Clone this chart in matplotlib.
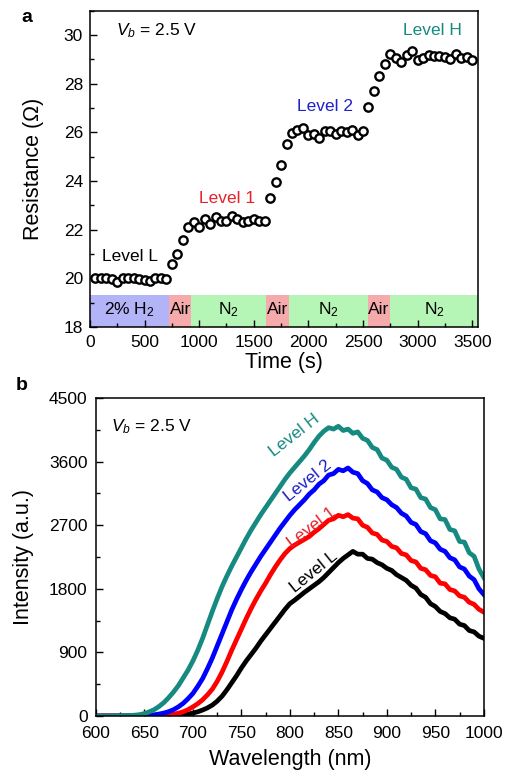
import numpy as np
import matplotlib
matplotlib.use("Agg")
import matplotlib.pyplot as plt
from matplotlib.ticker import MultipleLocator

plt.rcParams['font.family'] = ['Liberation Sans', 'DejaVu Sans']
plt.rcParams['mathtext.fontset'] = 'custom'
plt.rcParams['mathtext.rm'] = 'Liberation Sans'
plt.rcParams['mathtext.it'] = 'Liberation Sans:italic'

# ---- panel a: resistance vs time ----
time_s = list(range(50, 3501, 50))
resistance = [
    20.00, 20.00, 20.00, 19.95, 19.85, 20.00, 20.00, 20.00, 19.98, 19.93, 19.90, 20.02, 20.02, 19.95,  # 50-700
    20.58, 20.99, 21.59, 22.11, 22.33, 22.11, 22.45, 22.25, 22.50, 22.34, 22.37, 22.58, 22.44, 22.30,  # 750-1400
    22.37, 22.45, 22.37, 22.34,  # 1450-1600
    23.30, 23.97, 24.65, 25.53, 25.98, 26.09, 26.18, 25.89, 25.93, 25.78, 26.06, 26.04, 25.95, 26.04,  # 1650-2300
    26.02, 26.11, 25.91, 26.06,  # 2350-2500
    27.04, 27.72, 28.30, 28.80, 29.24, 29.06, 28.90, 29.17, 29.35, 28.97, 29.04, 29.20, 29.13, 29.13,  # 2550-3200
    29.08, 29.00, 29.24, 29.04, 29.10, 28.97,  # 3250-3500
]

# gas atmosphere segments (start, end, label, colour)
gas_start = [0, 722, 930, 1615, 1822, 2543, 2751]
gas_end = [722, 930, 1615, 1822, 2543, 2751, 3550]
gas_label = [r'2% H$_2$', 'Air', r'N$_2$', 'Air', r'N$_2$', 'Air', r'N$_2$']
gas_color = ['#b3b3f7', '#f5abab', '#b5f5b5', '#f5abab', '#b5f5b5', '#f5abab', '#b5f5b5']

# ---- panel b: EL spectra ----
wavelength = list(range(600, 1001, 5))
level_H = [0, 0, 0, 0, 2, 4, 6, 8, 12, 20, 35, 60, 90, 135, 190, 260, 340, 430, 540, 650,
           780, 930, 1100, 1290, 1480, 1660, 1830, 1980, 2120, 2250, 2380, 2510, 2630, 2740, 2850, 2950,
           3050, 3150, 3250, 3350, 3440, 3520, 3600, 3680, 3770, 3870, 3960, 4030, 4080, 4060, 4100,
           4040, 4060, 4000, 4020, 3930, 3900, 3800, 3770, 3650, 3620, 3520, 3490, 3380, 3350, 3230,
           3210, 3090, 3070, 2950, 2920, 2790, 2780, 2640, 2620, 2470, 2460, 2310, 2260, 2080, 1960]
level_2 = [0, 0, 0, 0, 0, 1, 2, 3, 4, 6, 8, 12, 18, 28, 42, 62, 90, 130, 180, 245,
           320, 420, 530, 670, 820, 990, 1160, 1330, 1500, 1650, 1790, 1920, 2040, 2150, 2260, 2360,
           2460, 2560, 2660, 2750, 2840, 2920, 2990, 3060, 3140, 3200, 3280, 3330, 3410, 3430, 3490,
           3470, 3510, 3450, 3430, 3330, 3290, 3200, 3170, 3090, 3060, 2990, 2950, 2870, 2830, 2740,
           2710, 2610, 2580, 2480, 2450, 2360, 2330, 2240, 2210, 2110, 2080, 1980, 1930, 1800, 1720]
level_1 = [0, 0, 0, 0, 0, 0, 0, 0, 0, 0, 0, 1, 3, 6, 10, 16, 25, 40, 60, 90,
           130, 175, 230, 300, 380, 490, 620, 770, 930, 1080, 1230, 1380, 1520, 1650, 1770, 1880,
           2000, 2110, 2210, 2300, 2370, 2420, 2460, 2500, 2540, 2600, 2650, 2710, 2770, 2790, 2840,
           2820, 2850, 2800, 2790, 2700, 2670, 2590, 2570, 2490, 2470, 2400, 2380, 2300, 2280, 2200,
           2180, 2090, 2070, 1990, 1970, 1880, 1870, 1790, 1770, 1700, 1680, 1610, 1580, 1510, 1470]
level_L = [0, 0, 0, 0, 0, 0, 0, 0, 0, 0, 0, 0, 0, 0, 0, 0, 5, 10, 18, 28,
           42, 60, 85, 115, 155, 210, 280, 370, 470, 570, 680, 780, 870, 960, 1060, 1150,
           1240, 1330, 1420, 1510, 1590, 1640, 1695, 1750, 1800, 1850, 1900, 1960, 2030, 2100, 2170,
           2230, 2280, 2330, 2290, 2290, 2230, 2220, 2170, 2140, 2090, 2060, 2000, 1960, 1920, 1850,
           1810, 1720, 1680, 1590, 1550, 1480, 1450, 1390, 1370, 1300, 1280, 1210, 1190, 1130, 1100]

spectra = [level_L, level_1, level_2, level_H]
spec_names = ['Level L', 'Level 1', 'Level 2', 'Level H']
spec_colors = ['black', '#ff0000', '#0000ff', '#168a80']
label_text_colors = ['black', '#e8202a', '#2020c8', '#168a80']


def style_axis(ax):
    for s in ax.spines.values():
        s.set_linewidth(1.1)
    ax.tick_params(which='both', direction='in', top=False, right=False, labelsize=12.5, width=1.0)
    ax.tick_params(which='major', length=5)
    ax.tick_params(which='minor', length=2.8)


fig = plt.figure(figsize=(5.05, 7.71), dpi=100)

# panel a
ax1 = fig.add_axes([0.178, 0.576, 0.768, 0.41])
for s, e, lab, c in zip(gas_start, gas_end, gas_label, gas_color):
    ax1.fill_between([s, e], 18, 19.33, color=c, lw=0, zorder=0)
    ax1.text((s + e) / 2, 18.72, lab, ha='center', va='center', fontsize=12.5, zorder=1)
ax1.plot(time_s, resistance, 'o', ms=6, mfc='white', mec='black', mew=1.7, zorder=3)
ax1.set_xlim(0, 3550)
ax1.set_ylim(18, 31)
ax1.xaxis.set_major_locator(MultipleLocator(500))
ax1.xaxis.set_minor_locator(MultipleLocator(250))
ax1.yaxis.set_major_locator(MultipleLocator(2))
ax1.yaxis.set_minor_locator(MultipleLocator(1))
style_axis(ax1)
ax1.tick_params(axis='x', pad=6)
ax1.tick_params(axis='y', pad=5)
ax1.set_xlabel('Time (s)', fontsize=15.5, labelpad=1)
ax1.set_ylabel('Resistance (Ω)', fontsize=15.5, labelpad=14)
ax1.text(240, 30.2, r'$V_b$ = 2.5 V', fontsize=12.5, va='center')
ax1.text(110, 20.88, 'Level L', fontsize=12.5, va='center', color='black')
ax1.text(1252, 23.27, 'Level 1', fontsize=12.5, va='center', ha='center', color='#e8202a')
ax1.text(2151, 27.07, 'Level 2', fontsize=12.5, va='center', ha='center', color='#2020c8')
ax1.text(3138, 30.18, 'Level H', fontsize=12.5, va='center', ha='center', color='#168a80')

# panel b
ax2 = fig.add_axes([0.190, 0.0713, 0.768, 0.4125])
for y, c in zip(spectra, spec_colors):
    ax2.plot(wavelength, y, color=c, lw=3.4)
ax2.set_xlim(600, 1000)
ax2.set_ylim(0, 4500)
ax2.xaxis.set_major_locator(MultipleLocator(50))
ax2.xaxis.set_minor_locator(MultipleLocator(25))
ax2.yaxis.set_major_locator(MultipleLocator(900))
ax2.yaxis.set_minor_locator(MultipleLocator(450))
style_axis(ax2)
ax2.tick_params(axis='x', pad=7)
ax2.tick_params(axis='y', pad=6)
ax2.set_xlabel('Wavelength (nm)', fontsize=15.5, labelpad=6)
ax2.set_ylabel('Intensity (a.u.)', fontsize=15.5, labelpad=11)
ax2.text(616, 4094, r'$V_b$ = 2.5 V', fontsize=12.5, va='center')

label_pos = [(825, 2040), (823, 2667), (819, 3325), (805, 3976)]
label_rot = [39, 37, 39, 38]
for (lx, ly), rot, name, c in zip(label_pos, label_rot, spec_names, label_text_colors):
    ax2.text(lx, ly, name, fontsize=12.5, color=c, rotation=rot, ha='center', va='center',
             rotation_mode='anchor')

fig.text(27 / 505, 1 - 17 / 771, 'a', fontsize=14, fontweight='bold', ha='center', va='center')
fig.text(22 / 505, 1 - 385 / 771, 'b', fontsize=14, fontweight='bold', ha='center', va='center')

fig.savefig('out.png', dpi=100)
